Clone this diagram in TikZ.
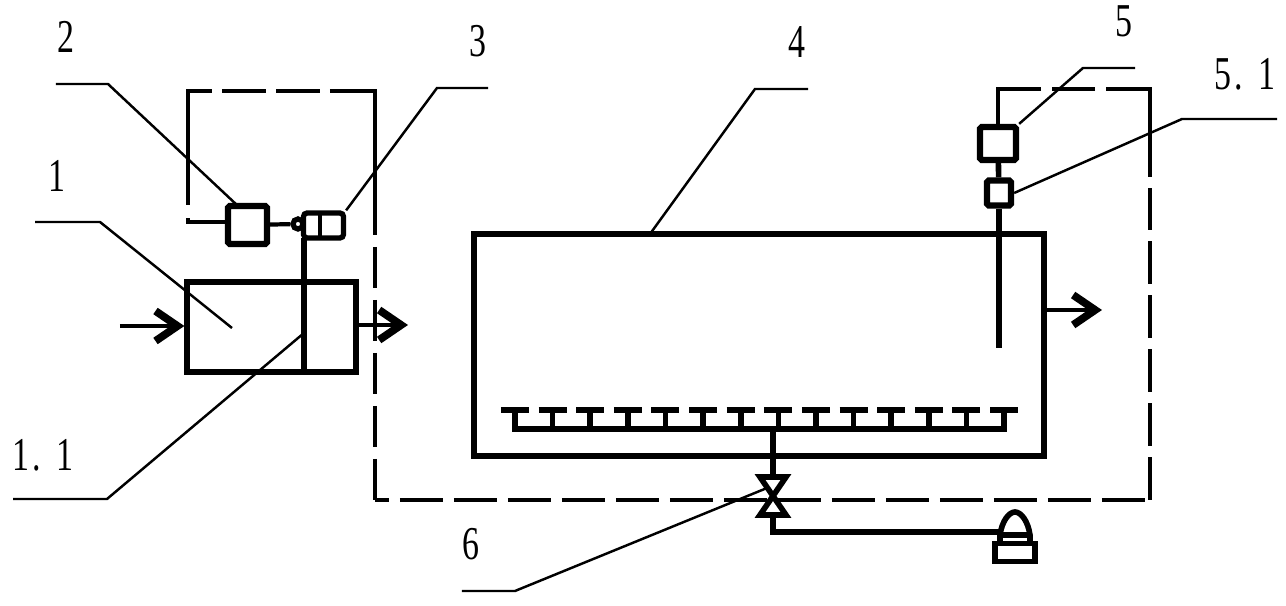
\documentclass[tikz,border=0pt]{standalone}
\usepackage{fontspec}
\setmainfont{Liberation Serif}
\newfontfamily\tagfont[FakeStretch=0.72,LetterSpace=6]{Liberation Serif}
\usetikzlibrary{arrows.meta}
\tikzset{
    unit/.style={draw, line width=1.5pt, inner sep=0pt},
    smallunit/.style={unit, line width=1.8pt, rounded corners=0.5pt},
    pipe/.style={line width=1.6pt},
    flow/.style={line width=1.3pt, -{Straight Barb[length=2.2mm,width=3mm,line width=2.2pt]}},
    leader/.style={line width=0.7pt},
    signal/.style={line width=1.1pt},
    tag/.style={font=\tagfont\fontsize{13.4pt}{14pt}\selectfont, inner sep=0pt}
}

\begin{document}
\begin{tikzpicture}
    \useasboundingbox (0,0) rectangle (12.86,6.06);

    \node[unit, minimum width=1.69cm, minimum height=0.9cm] (tank) at (2.715,2.79) {};
    \node[unit, minimum width=5.70cm, minimum height=2.22cm] (reactor) at (7.59,2.61) {};
    \node[smallunit, minimum width=0.39cm, minimum height=0.38cm] (ctrlL) at (2.475,3.81) {};
    \node[unit, rounded corners=1pt, minimum width=0.40cm, minimum height=0.25cm] (motor) at (3.235,3.805) {};
    \node[unit, circle, minimum size=0.10cm] (clutch) at (2.98,3.82) {};
    \node[smallunit, minimum width=0.36cm, minimum height=0.33cm] (ctrlR) at (9.98,4.625) {};
    \node[smallunit, minimum width=0.24cm, minimum height=0.25cm] (sensor) at (9.99,4.13) {};

    \coordinate (paddleT) at (3.04,3.68);
    \coordinate (paddleB) at (3.04,2.34);
    \coordinate (probeE) at (9.99,2.58);
    \coordinate (tankIn) at (1.20,2.80);
    \coordinate (tankOut) at (4.08,2.81);
    \coordinate (reactorOut) at (11.02,2.96);

    \draw[pipe] (paddleT) -- (paddleB);
    \draw[line width=1.2pt] (ctrlL) -- (clutch);
    \draw[line width=1.4pt] (3.20,3.93) -- (3.20,3.68);
    \draw[pipe] (ctrlR) -- (sensor);
    \draw[pipe] (sensor) -- (probeE);
    \draw[flow] (tankIn) -- (tank.west |- tankIn);
    \draw[flow] (tank.east |- tankOut) -- (tankOut);
    \draw[flow] (reactor.east |- reactorOut) -- (reactorOut);

    % control loop
    \draw[signal, dash pattern=on 13.8mm off 1mm on 4.4mm off 1mm on 4.4mm off 1mm on 18.9mm off 5mm]
        (1.88,4.01) -- (1.88,5.15) -- (3.75,5.15) -- (3.75,3.71);
    \draw[signal, dash pattern=on 4.15mm off 1.15mm] (3.75,3.59) -- (3.75,1.06);
    \draw[signal, dash pattern=on 4.3mm off 1.1mm, dash phase=2.9mm] (3.75,1.06) -- (11.50,1.06);
    \draw[signal, dash pattern=on 4.3mm off 1.1mm] (11.50,1.06) -- (11.50,4.18);
    \draw[signal, dash pattern=on 13.2mm off 1.1mm on 4.3mm off 1.1mm on 9mm off 1mm]
        (11.50,4.29) -- (11.50,5.17) -- (9.98,5.17) -- (ctrlR.north);
    \draw[signal] (ctrlL.west |- 1.88,3.84) -- (1.88,3.84) -- (1.88,3.88);

    % sparger
    \draw[pipe] (5.15,1.96) -- (5.15,1.77) -- (10.04,1.77) -- (10.04,1.96);
    \foreach \i in {0,...,13} {
        \draw[pipe] (5.15+\i*0.3762,1.77) -- (5.15+\i*0.3762,1.96);
        \draw[pipe] (5.01+\i*0.3762,1.96) -- (5.29+\i*0.3762,1.96);
    }

    % valve and blower
    \draw[pipe] (7.73,1.77) -- (7.73,1.29);
    \draw[pipe] (7.60,1.29) -- (7.86,1.29) -- (7.60,0.91) -- (7.86,0.91) -- cycle;
    \draw[pipe] (7.73,0.91) -- (7.73,0.74) -- (10.02,0.74);
    \draw[pipe, line join=round] (10.00,0.64) -- (10.00,0.71)
        .. controls (10.02,0.85) and (10.09,0.94) .. (10.15,0.94)
        .. controls (10.21,0.94) and (10.28,0.85) .. (10.30,0.71) -- (10.30,0.64);
    \draw[pipe] (10.00,0.71) -- (10.30,0.71);
    \node[unit, minimum width=0.40cm, minimum height=0.18cm] (base) at (10.15,0.535) {};

    % leaders
    \draw[leader] (0.56,5.22) -- (1.08,5.22) -- (2.38,4.00);
    \draw[leader] (4.88,5.18) -- (4.37,5.18) -- (motor.north east);
    \draw[leader] (0.35,3.84) -- (1.00,3.84) -- (2.32,2.78);
    \draw[leader] (0.13,1.07) -- (1.07,1.07) -- (3.04,2.73);
    \draw[leader] (8.08,5.17) -- (7.55,5.17) -- (6.50,3.72);
    \draw[leader] (11.35,5.38) -- (10.83,5.38) -- (ctrlR.north east);
    \draw[leader] (12.77,4.87) -- (11.82,4.87) -- (sensor.east);
    \draw[leader] (4.62,0.15) -- (5.15,0.15) -- (7.67,1.18);

    \node[tag] (n1) at (0.57,4.30) {1};
    \node[tag] (n11) at (0.43,1.51) {1. 1};
    \node[tag] (n2) at (0.66,5.69) {2};
    \node[tag] (n3) at (4.78,5.65) {3};
    \node[tag] (n4) at (7.97,5.64) {4};
    \node[tag] (n5) at (11.24,5.85) {5};
    \node[tag] (n51) at (12.45,5.32) {5. 1};
    \node[tag] (n6) at (4.71,0.62) {6};
\end{tikzpicture}
\end{document}
